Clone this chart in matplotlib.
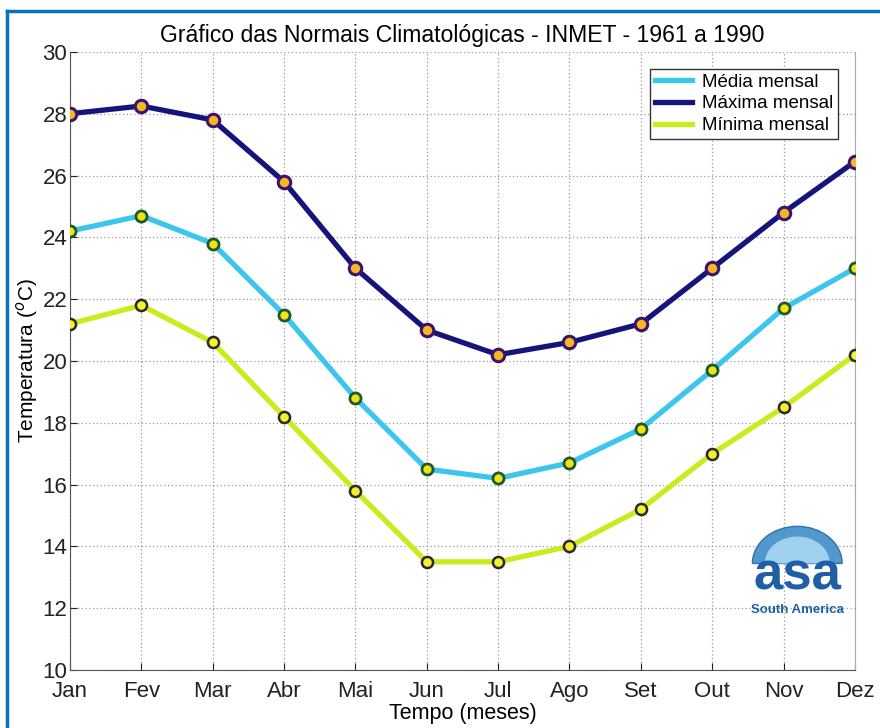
import matplotlib.pyplot as plt
from matplotlib.patches import Wedge
from matplotlib.lines import Line2D

meses = ["Jan", "Fev", "Mar", "Abr", "Mai", "Jun", "Jul", "Ago", "Set", "Out", "Nov", "Dez"]
media = [24.2, 24.7, 23.8, 21.5, 18.8, 16.5, 16.2, 16.7, 17.8, 19.7, 21.7, 23.0]
maxima = [28.0, 28.25, 27.8, 25.8, 23.0, 21.0, 20.2, 20.6, 21.2, 23.0, 24.8, 26.45]
minima = [21.2, 21.8, 20.6, 18.2, 15.8, 13.5, 13.5, 14.0, 15.2, 17.0, 18.5, 20.2]

plt.rcParams['font.family'] = ['Liberation Sans', 'DejaVu Sans']

fig = plt.figure(figsize=(8.8, 7.28), dpi=100)
ax = fig.add_axes([0.0795, 0.0797, 0.892, 0.849])

x = range(len(meses))
cores = {"media": "#3cc6ee", "max": "#14147a", "min": "#cceb1e"}

# linhas + marcadores
ax.plot(x, media, color=cores["media"], lw=3.8, zorder=3)
ax.plot(x, media, ls="none", marker="o", ms=8, mfc="#f2e21a", mec="#1d5a2a", mew=2, zorder=4)
ax.plot(x, maxima, color=cores["max"], lw=3.8, zorder=3)
ax.plot(x, maxima, ls="none", marker="o", ms=9, mfc="#f5b820", mec="#3a1470", mew=2.2, zorder=4)
ax.plot(x, minima, color=cores["min"], lw=3.8, zorder=3)
ax.plot(x, minima, ls="none", marker="o", ms=8, mfc="#f6ee30", mec="#2a2a2a", mew=1.8, zorder=4)

ax.set_xlim(0, 11)
ax.set_ylim(10, 30)
ax.set_xticks(list(x))
ax.set_xticklabels(meses)
ax.set_yticks(range(10, 31, 2))
ax.tick_params(direction="in", length=5, labelsize=16, colors="#222222", pad=2)
ax.tick_params(axis="x", pad=8)
ax.grid(True, ls=(0, (1, 2)), color="#999999", lw=0.9)
for s in ["left", "bottom"]:
    ax.spines[s].set_color("#555555")
ax.spines["right"].set_color("#aaaaaa")
ax.spines["top"].set_visible(False)

ax.set_title("Gráfico das Normais Climatológicas - INMET - 1961 a 1990", fontsize=16.6, pad=7)
ax.set_xlabel("Tempo (meses)", fontsize=15.5, labelpad=1)
ax.set_ylabel("Temperatura ($^o$C)", fontsize=15, labelpad=2)

handles = [Line2D([], [], color=cores["media"], lw=3.8),
           Line2D([], [], color=cores["max"], lw=3.8),
           Line2D([], [], color=cores["min"], lw=3.8)]
leg = ax.legend(handles, ["Média mensal", "Máxima mensal", "Mínima mensal"],
                loc="upper right", bbox_to_anchor=(0.99, 0.988), fontsize=13.5,
                fancybox=False, edgecolor="#333333", framealpha=1,
                handlelength=2.0, handletextpad=0.5, borderpad=0.25, labelspacing=0.25)
leg.get_frame().set_linewidth(1.0)

# logo asa
globo = Wedge((0.906, 0.226), 0.051, 0, 180, transform=fig.transFigure,
              facecolor="#3f8cc8", edgecolor="#2a6aa8", alpha=0.9, zorder=5)
fig.patches.append(globo)
globo2 = Wedge((0.906, 0.226), 0.037, 0, 180, transform=fig.transFigure,
               facecolor="#9fd0ee", edgecolor="none", zorder=5)
fig.patches.append(globo2)
fig.text(0.906, 0.19, "asa", fontsize=38, fontweight="bold", color="#1f5fa5",
         ha="center", va="baseline", zorder=6)
fig.text(0.906, 0.158, "South America", fontsize=9.5, fontweight="bold", color="#1f5fa5",
         ha="center", va="baseline", zorder=6)

# moldura azul
fig.add_artist(Line2D([0.008, 1.0], [0.985, 0.985], transform=fig.transFigure, color="#0a70c0", lw=2.5))
fig.add_artist(Line2D([0.008, 0.008], [0.0, 0.985], transform=fig.transFigure, color="#0a70c0", lw=2.5))

fig.savefig("out.png", dpi=100)
